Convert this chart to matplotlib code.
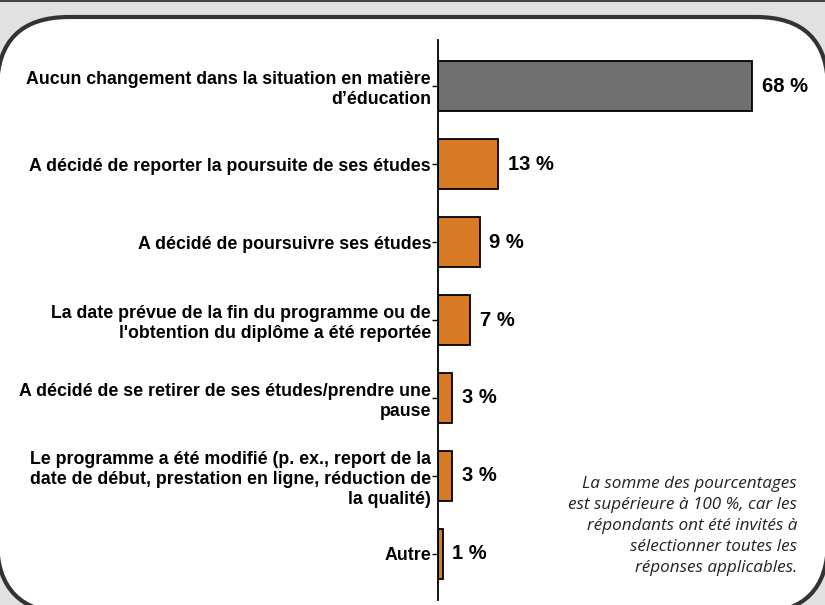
import matplotlib
matplotlib.use("Agg")
import matplotlib.pyplot as plt
from matplotlib.patches import FancyBboxPatch
from matplotlib.lines import Line2D

categories = [
    "Aucun changement dans la situation en matière\nd’éducation",
    "A décidé de reporter la poursuite de ses études",
    "A décidé de poursuivre ses études",
    "La date prévue de la fin du programme ou de\nl'obtention du diplôme a été reportée",
    "A décidé de se retirer de ses études/prendre une\npause",
    "Le programme a été modifié (p. ex., report de la\ndate de début, prestation en ligne, réduction de\nla qualité)",
    "Autre",
]
values = [68, 13, 9, 7, 3, 3, 1]
value_labels = ["68 %", "13 %", "9 %", "7 %", "3 %", "3 %", "1 %"]
note = ("La somme des pourcentages\nest supérieure à 100 %, car les\n"
        "répondants ont été invités à\nsélectionner toutes les\nréponses applicables.")

bar_colors = ["#707070"] + ["#d97b25"] * 6

W, H = 825, 605
fig = plt.figure(figsize=(W / 100, H / 100), dpi=100)
fig.patch.set_facecolor("#e1e1e1")

# rounded white panel
panel = FancyBboxPatch((-0.03, -0.08), 8.31, 5.96,
                       boxstyle="round,pad=0,rounding_size=0.72",
                       facecolor="white", edgecolor="#333333", linewidth=3.0,
                       transform=fig.dpi_scale_trans, zorder=0)
fig.add_artist(panel)
fig.add_artist(Line2D([0, 1], [1 - 1 / H, 1 - 1 / H], transform=fig.transFigure,
                      color="#444444", linewidth=1.5))

ax = fig.add_axes([438 / W, 5 / H, 369.6 / W, 560 / H])
ax.patch.set_alpha(0)
y = list(range(len(categories)))
ax.barh(y, values, height=0.645, color=bar_colors, edgecolor="black", linewidth=1.3)
ax.set_xlim(0, 80)
ax.set_ylim(6.59, -0.59)
ax.set_yticks(y)
ax.set_yticklabels(categories, fontsize=12.8, fontweight="bold",
                   family="Liberation Sans", linespacing=1.22,
                   multialignment="right")
ax.tick_params(axis="y", length=4, width=1, pad=1)
ax.set_xticks([])
for s in ["top", "right", "bottom"]:
    ax.spines[s].set_visible(False)
ax.spines["left"].set_linewidth(1.3)

for yi, v, lab in zip(y, values, value_labels):
    ax.annotate(lab, (v, yi), xytext=(7, 0), textcoords="offset points",
                ha="left", va="center", fontsize=14.5, fontweight="bold",
                family="Liberation Sans")

fig.text(797 / W, 1 - 526 / H, note, ha="right", va="center", fontsize=12.3,
         style="italic", family="Open Sans", color="#222222", linespacing=1.42)

fig.savefig("out.png", dpi=100, facecolor=fig.get_facecolor())
